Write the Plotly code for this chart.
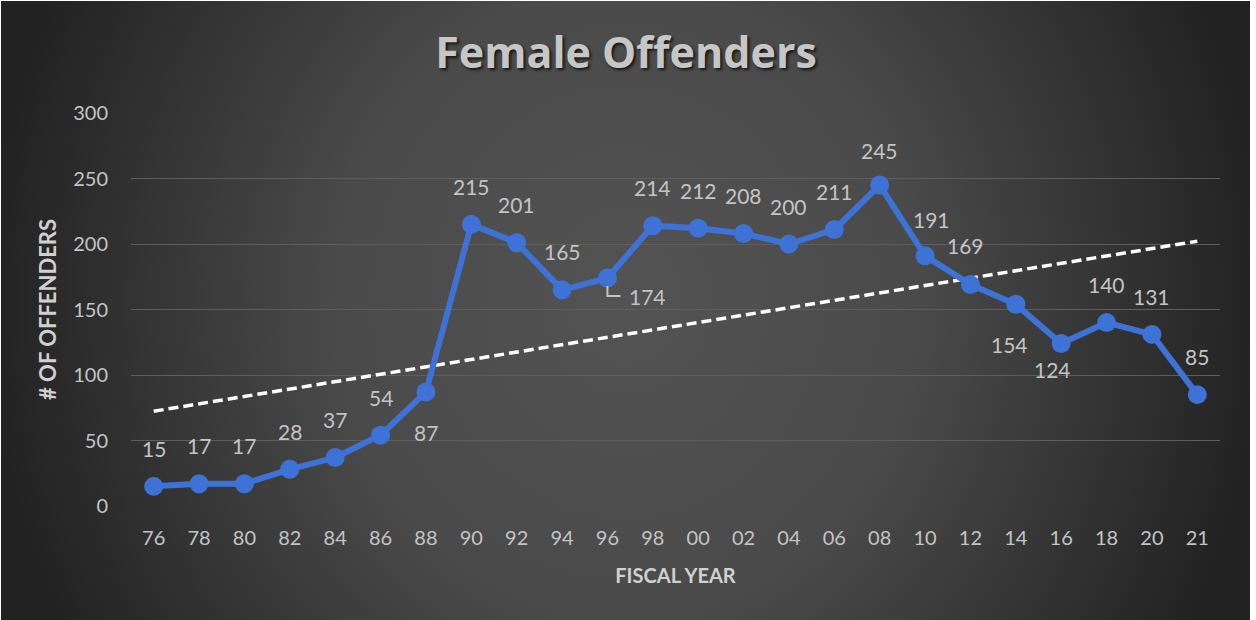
import base64
import numpy as np
import plotly.graph_objects as go

# Fiscal years (two-digit) and number of female offenders per year
years = ["76", "78", "80", "82", "84", "86", "88", "90", "92", "94", "96", "98",
         "00", "02", "04", "06", "08", "10", "12", "14", "16", "18", "20", "21"]
offenders = [15, 17, 17, 28, 37, 54, 87, 215, 201, 165, 174, 214,
             212, 208, 200, 211, 245, 191, 169, 154, 124, 140, 131, 85]

# Label placement per point: (x shift px, y shift px)
label_shift = {
    "88": (0, -40), "96": (40, -18), "10": (6, 36), "12": (-5, 39),
    "14": (-6, -40), "16": (-9, -26), "08": (0, 35),
}

W, H = 1256, 620
L_M, R_M, T_M, B_M = 131, 36, 113, 114
plot_w = W - L_M - R_M
plot_h = H - T_M - B_M

# Linear trend over the year index
idx = np.arange(len(years))
slope, intercept = np.polyfit(idx, offenders, 1)
trend = slope * idx + intercept

line_blue = "rgb(62,114,214)"
text_grey = "#c4c4c4"
font_fam = "Lato, 'Open Sans', sans-serif"

fig = go.Figure()

fig.add_trace(go.Scatter(
    x=idx, y=trend, mode="lines",
    line=dict(color="white", width=3.5, dash="10px,5px"),
    hoverinfo="skip", showlegend=False,
))

fig.add_trace(go.Scatter(
    x=idx, y=offenders, mode="lines+markers",
    line=dict(color=line_blue, width=6),
    marker=dict(color=line_blue, size=19),
    customdata=years, hovertemplate="%{customdata}: %{y}<extra></extra>",
    showlegend=False,
))

annotations = []
for i, (yr, v) in enumerate(zip(years, offenders)):
    dx, dy = label_shift.get(yr, (0, 38))
    annotations.append(dict(
        x=i, y=v, xref="x", yref="y", text=str(v), showarrow=False,
        xshift=dx, yshift=dy,
        font=dict(family=font_fam, size=21, color=text_grey),
    ))

# Background: dark radial gradient behind the whole chart
svg = '''<svg xmlns="http://www.w3.org/2000/svg" width="1249" height="619" viewBox="0 0 1249 619" preserveAspectRatio="none">
<defs><radialGradient id="g" gradientUnits="userSpaceOnUse" cx="625" cy="300" r="1"
 gradientTransform="translate(625,300) scale(640,700) translate(-625,-300)">
<stop offset="0" stop-color="#535353"/>
<stop offset="0.45" stop-color="#4a4a4a"/>
<stop offset="1" stop-color="#222222"/>
</radialGradient></defs>
<rect width="1249" height="619" fill="url(#g)"/></svg>'''
bg_src = "data:image/svg+xml;base64," + base64.b64encode(svg.encode()).decode()

i96 = years.index("96")

fig.update_layout(
    width=W, height=H,
    margin=dict(l=L_M, r=R_M, t=T_M, b=B_M),
    paper_bgcolor="white",
    plot_bgcolor="rgba(0,0,0,0)",
    images=[dict(
        source=bg_src, xref="paper", yref="paper",
        x=(1 - L_M) / plot_w, y=(H - B_M - 1) / plot_h,
        sizex=1249 / plot_w, sizey=619 / plot_h,
        xanchor="left", yanchor="top", sizing="stretch", layer="below",
    )],
    title=dict(
        text="<b>Female Offenders</b>", x=(626 - L_M) / plot_w, xref="paper",
        xanchor="center",
        y=(H - 53) / H, yanchor="middle",
        font=dict(family="'Open Sans', Lato, sans-serif", size=43, color="#c6c6c6",
                  shadow="2px 2px 3px rgba(0,0,0,0.7)"),
    ),
    xaxis=dict(
        range=[-0.5, len(years) - 0.5],
        tickmode="array", tickvals=idx, ticktext=years,
        showgrid=False, zeroline=False, showline=False, ticks="",
        tickfont=dict(family=font_fam, size=20, color=text_grey),
        ticklabelstandoff=18,
        title=dict(text="<b>FISCAL YEAR</b>", standoff=20,
                   font=dict(family=font_fam, size=20, color="#d0d0d0")),
    ),
    yaxis=dict(
        range=[0, 300], dtick=50, showgrid=True, gridcolor="#5e5e5e", gridwidth=1,
        zeroline=False, showline=False, ticks="",
        tickfont=dict(family=font_fam, size=20, color=text_grey),
        ticklabelstandoff=22,
        title=dict(text="<b># OF OFFENDERS</b>", standoff=10,
                   font=dict(family=font_fam, size=22, color="#d0d0d0")),
    ),
    annotations=annotations,
    shapes=[dict(
        type="path", xref="x", yref="y", xsizemode="pixel", ysizemode="pixel",
        xanchor=i96, yanchor=offenders[i96],
        path="M0,-8 L0,-18 L13,-18",
        line=dict(color=text_grey, width=2),
    )],
)

fig.write_html("out.html")
